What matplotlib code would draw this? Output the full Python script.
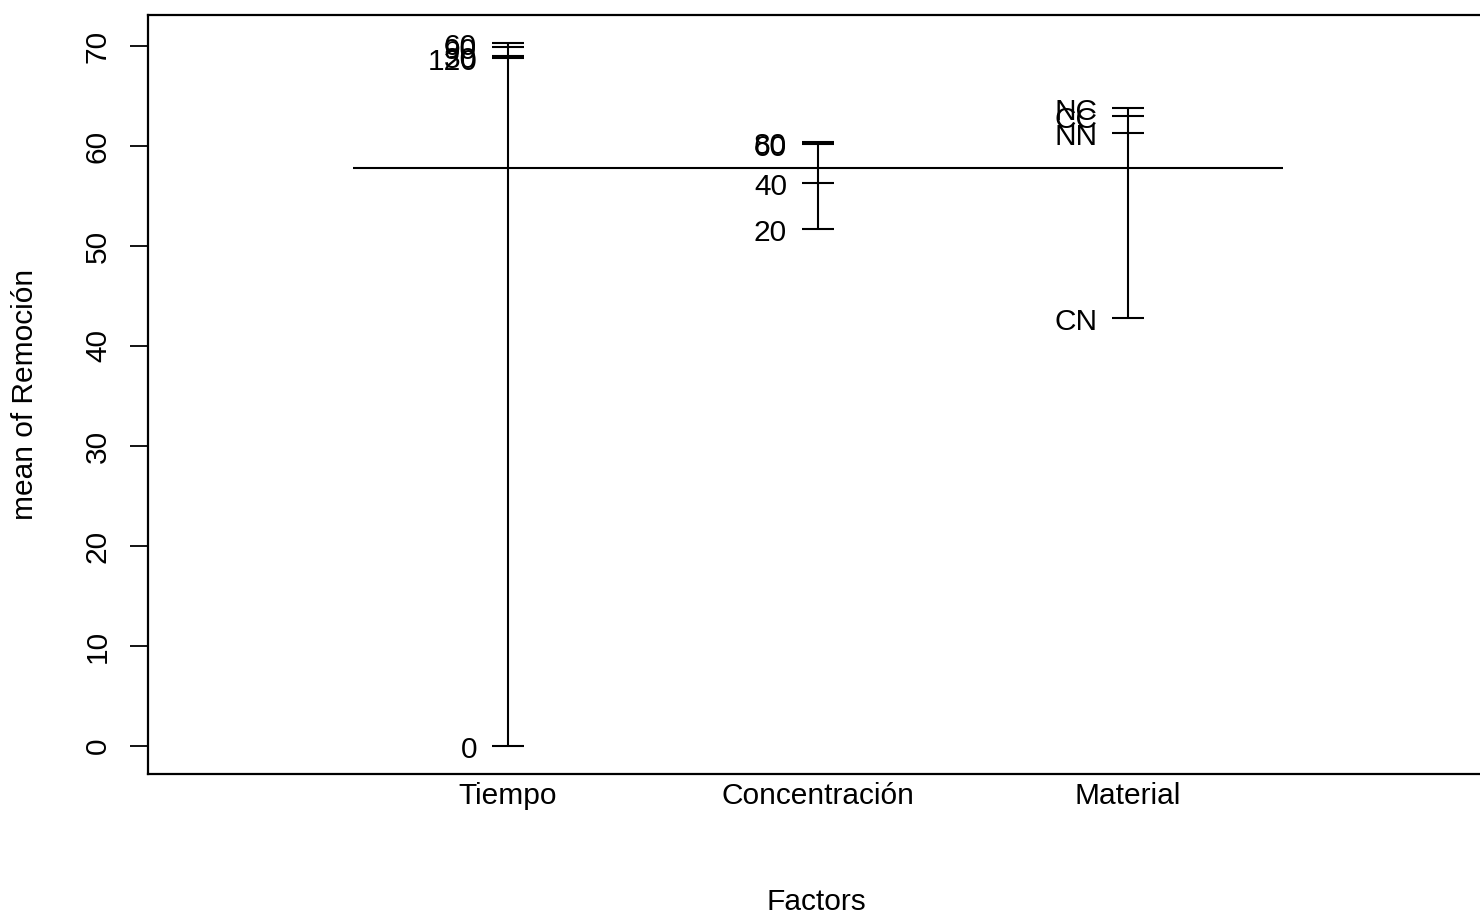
import matplotlib
matplotlib.use("Agg")
import matplotlib.pyplot as plt

plt.rcParams['font.family'] = ['Liberation Sans', 'DejaVu Sans']

factors = ["Tiempo", "Concentración", "Material"]
tiempo_levels = ["0", "30", "60", "90", "120"]
tiempo_means = [0.0, 68.95, 70.3, 69.9, 68.75]
conc_levels = ["20", "40", "60", "80"]
conc_means = [51.7, 56.3, 60.2, 60.4]
material_levels = ["CC", "CN", "NC", "NN"]
material_means = [63.0, 42.8, 63.8, 61.3]
grand_mean = 57.8
y_ticks = [0, 10, 20, 30, 40, 50, 60, 70]

groups = [(tiempo_levels, tiempo_means),
          (conc_levels, conc_means),
          (material_levels, material_means)]

W, H = 1480, 914
fig = plt.figure(figsize=(W / 100, H / 100), dpi=100)
left, right, top, bottom = 148, 1486, 15, 774
ax = fig.add_axes([left / W, 1 - bottom / H, (right - left) / W, (bottom - top) / H])

px_per_unit_x = 310.0
x1_px = 508.0
ax.set_xlim(1 + (left - x1_px) / px_per_unit_x, 1 + (right - x1_px) / px_per_unit_x)
ax.set_ylim((746 - bottom) / 10.0, (746 - top) / 10.0)

fs = 21.5
lw = 1.5
half = 16 / px_per_unit_x

ax.hlines(grand_mean, 0.5, len(factors) + 0.5, color="black", lw=lw)

for i, (labels, means) in enumerate(groups):
    x = i + 1
    ax.vlines(x, min(means), max(means), color="black", lw=lw)
    ax.hlines(means, x - half, x + half, color="black", lw=lw)
    for lab, m in zip(labels, means):
        ax.annotate(lab, (x - half, m), xytext=(-15, -4), textcoords="offset pixels",
                    ha="right", va="center", fontsize=fs, color="black")

ax.set_xticks(range(1, len(factors) + 1))
ax.set_xticklabels(factors, fontsize=fs)
ax.tick_params(axis="x", length=0, pad=6)
ax.set_yticks(y_ticks)
ax.set_yticklabels([str(t) for t in y_ticks], fontsize=fs, rotation=90, va="center")
ax.tick_params(axis="y", length=13, width=1.3, pad=13)

for s in ax.spines.values():
    s.set_linewidth(1.6)

fig.text(816 / W, 1 - 902 / H, "Factors", ha="center", va="center", fontsize=fs)
fig.text(25 / W, 1 - 394 / H, "mean of Remoción", ha="center", va="center",
         rotation=90, fontsize=fs)

fig.savefig("out.png", dpi=100)
